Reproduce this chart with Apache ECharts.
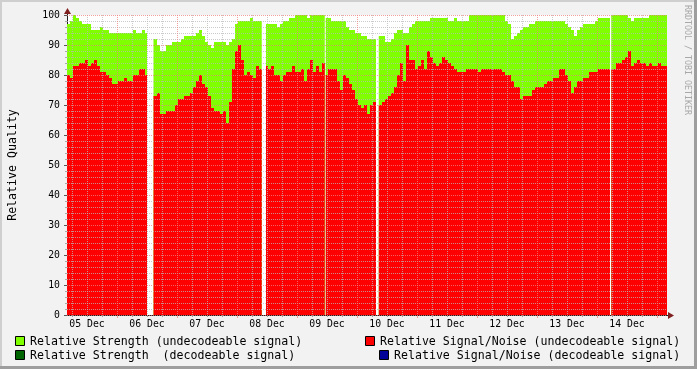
<!DOCTYPE html>
<html><head><meta charset="utf-8">
<script src="https://cdn.jsdelivr.net/npm/echarts@6/dist/echarts.min.js"></script>
<style>html,body{margin:0;padding:0;background:#f2f2f2}#c{width:697px;height:369px}</style>
</head><body><div id="c"></div>
<script>
// ---- data (hours relative to 05 Dec 00:00) ----
const dayTicks  = [0, 24, 48, 72, 96, 120, 144, 168, 192, 216];
const dayLabels = ['05 Dec','06 Dec','07 Dec','08 Dec','09 Dec','10 Dec','11 Dec','12 Dec','13 Dec','14 Dec'];
const minorHours = [-6,0,6,18,24,30,42,48,54,66,72,78,90,96,102,114,120,126,138,144,150,162,168,174,186,192,198,210,216,222];
const majorHours = [12,36,60,84,108,132,156,180,204,228];
const yMinor = [2,4,6,8,12,14,16,18,22,24,26,28,32,34,36,38,42,44,46,48,52,54,56,58,62,64,66,68,72,74,76,78,82,84,86,88,92,94,96,98];
const X_MIN = -8, X_MAX = 232, STEP = 1.2;
// periods without data [from, to]
const gaps = [[24.0, 26.6], [69.9, 71.6], [95.1, 95.5], [115.6, 116.7], [209.2, 209.7]];

const strength = [
 97,98,100,99,98,97,97,97,95,95,
 95,96,95,95,94,94,94,94,94,94,
 94,94,95,94,94,95,94,null,92,92,
 90,88,88,90,90,91,91,91,92,93,
 93,93,93,94,95,93,91,90,89,91,
 91,91,91,90,91,92,97,98,98,98,
 98,99,98,98,98,null,97,97,97,97,
 96,97,98,98,99,99,100,100,100,100,
 99,100,100,100,100,100,99,99,98,98,
 98,98,98,96,95,95,94,94,93,93,
 92,92,92,93,93,93,91,91,92,94,
 95,95,94,94,96,97,98,98,98,98,
 98,99,99,99,99,99,99,98,98,99,
 98,98,98,98,100,100,100,100,100,100,
 100,100,100,100,100,100,98,97,92,93,
 94,95,96,96,97,97,98,98,98,98,
 98,98,98,98,98,98,97,96,95,93,
 95,96,97,97,97,97,98,99,99,99,
 99,100,100,100,100,100,100,99,98,99,
 99,99,99,99,100,100,100,100,100,100
];
const snr = [
 80,79,83,83,84,84,85,83,84,85,
 83,81,81,80,79,77,77,78,78,79,
 78,78,80,80,82,82,80,null,73,73,
 74,67,67,68,68,68,70,72,72,73,
 73,74,76,78,80,77,76,73,69,68,
 68,67,68,64,71,82,88,90,85,80,
 81,80,79,83,82,null,83,82,83,80,
 80,78,80,81,81,83,81,81,82,78,
 82,85,81,83,81,84,80,82,82,82,
 78,75,80,79,77,75,72,70,69,70,
 67,70,71,70,70,71,72,73,74,76,
 80,84,78,90,85,85,82,83,85,82,
 88,86,84,83,84,86,85,84,83,82,
 81,81,81,82,82,82,82,81,82,82,
 82,82,82,82,82,81,80,80,78,76,
 76,72,73,73,73,75,76,76,76,77,
 78,78,79,79,82,82,80,78,74,76,
 78,78,79,79,81,81,81,82,82,82,
 82,82,82,84,84,85,86,88,83,84,
 85,84,84,83,84,83,83,84,83,83
];
const times = strength.map((_, i) => X_MIN + STEP * i);

const FONT = 'DejaVu Sans Mono';
const GREEN = '#80ff00', RED = '#ff0000', DGREEN = '#006400', BLUE = '#000099';
const MINOR_C = 'rgba(185,185,185,0.75)', MAJOR_C = 'rgba(238,130,130,0.75)';

function clipSegments(a, b) {
  let segs = [[a, b]];
  for (const [g0, g1] of gaps) {
    const out = [];
    for (const [s, e] of segs) {
      if (g1 <= s || g0 >= e) { out.push([s, e]); continue; }
      if (g0 > s) out.push([s, g0]);
      if (g1 < e) out.push([g1, e]);
    }
    segs = out;
  }
  return segs;
}
function areaSeries(name, values, color, z) {
  return {
    type: 'custom', name, z, xAxisIndex: 0, yAxisIndex: 0, clip: true, silent: true, animation: false,
    encode: { x: 0, y: 1 },
    data: values.map((v, i) => [times[i], v == null ? '-' : v]),
    renderItem(params, api) {
      const v = api.value(1);
      if (v == null || isNaN(v)) return null;
      const t0 = api.value(0);
      const children = clipSegments(t0, t0 + STEP).map(([a, b]) => {
        const p0 = api.coord([a, v]), p1 = api.coord([b, 0]);
        return { type: 'rect', shape: { x: p0[0], y: p0[1], width: p1[0] - p0[0], height: p1[1] - p0[1] }, style: { fill: color } };
      });
      return { type: 'group', children };
    }
  };
}
const overlayX = (vals, color, z, tick) => ({
  type: 'value', min: X_MIN, max: X_MAX, position: 'bottom', offset: 0, z,
  axisLine: { show: false },
  axisTick: { show: !!tick, customValues: vals, length: 3, lineStyle: { color } },
  axisLabel: { show: false },
  splitLine: { show: true, lineStyle: { color, type: [1, 1], width: 1 } }
});
const overlayY = (extra, color, z) => Object.assign({
  type: 'value', min: 0, max: 100, position: 'left', offset: 0, z,
  axisLine: { show: false }, axisLabel: { show: false },
  splitLine: { show: true, lineStyle: { color, type: [1, 1], width: 1 } }
}, extra);

const chart = echarts.init(document.getElementById('c'), null, { renderer: 'canvas', width: 697, height: 369 });
const option = {
  animation: false,
  backgroundColor: '#f2f2f2',
  textStyle: { fontFamily: FONT },
  grid: { left: 67, right: 30, top: 15, bottom: 54, containLabel: false, outerBoundsMode: 'none', show: true, backgroundColor: '#ffffff', borderWidth: 0 },
  xAxis: [
    {
      type: 'value', min: X_MIN, max: X_MAX, position: 'bottom',
      axisLine: { show: true, onZero: false, lineStyle: { color: '#1f1f1f', width: 1 } },
      axisTick: { show: true, customValues: minorHours, length: 2, lineStyle: { color: '#999' } },
      axisLabel: { customValues: dayTicks, formatter: v => dayLabels[dayTicks.indexOf(v)], fontFamily: FONT, fontSize: 9.8, color: '#000', margin: 4 },
      splitLine: { show: false }
    },
    overlayX(minorHours, MINOR_C, 10, false),
    overlayX(majorHours, MAJOR_C, 11, true)
  ],
  yAxis: [
    {
      type: 'value', min: 0, max: 100, interval: 10, position: 'left',
      name: 'Relative Quality', nameLocation: 'middle', nameGap: 48, nameRotate: 90,
      nameTextStyle: { fontFamily: FONT, fontSize: 11.6, color: '#000' },
      axisLine: { show: true, onZero: false, lineStyle: { color: '#1f1f1f', width: 1 } },
      axisTick: { show: true, length: 3, lineStyle: { color: '#555' } },
      minorTick: { show: true, splitNumber: 5, length: 2, lineStyle: { color: '#aaa' } },
      axisLabel: { fontFamily: FONT, fontSize: 9.8, color: '#000', margin: 7 },
      splitLine: { show: false }
    },
    overlayY({ axisTick: { show: false, customValues: yMinor } }, MINOR_C, 10),
    overlayY({ interval: 10, axisTick: { show: false } }, MAJOR_C, 11)
  ],
  series: [
    areaSeries('Relative Strength (undecodeable signal)', strength, GREEN, 2),
    areaSeries('Relative Signal/Noise (undecodeable signal)', snr, RED, 3)
  ]
};
chart.setOption(option);

const o = chart.convertToPixel({ xAxisIndex: 0, yAxisIndex: 0 }, [X_MIN, 0]);
const e = chart.convertToPixel({ xAxisIndex: 0, yAxisIndex: 0 }, [X_MAX, 100]);
const ARROW = '#801f1f';
const legendText = (x, y, text) => ({ type: 'text', x, y, style: { text, fill: '#000', fontFamily: FONT, fontSize: 11.6, verticalAlign: 'middle' }, silent: true });
const legendBox = (x, y, fill) => ({ type: 'rect', shape: { x: x + 0.5, y: y + 0.5, width: 9, height: 9 }, style: { fill, stroke: '#000', lineWidth: 1 }, silent: true });
chart.setOption({
  graphic: [
    { type: 'rect', shape: { x: 0, y: 0, width: 697, height: 2 }, style: { fill: '#cfcfcf' }, silent: true },
    { type: 'rect', shape: { x: 0, y: 0, width: 2, height: 369 }, style: { fill: '#cfcfcf' }, silent: true },
    { type: 'rect', shape: { x: 694, y: 0, width: 3, height: 369 }, style: { fill: '#9e9e9e' }, silent: true },
    { type: 'rect', shape: { x: 0, y: 366, width: 697, height: 3 }, style: { fill: '#9e9e9e' }, silent: true },
    // axis extensions and arrows
    { type: 'line', shape: { x1: e[0], y1: o[1] + 0.5, x2: e[0] + 2, y2: o[1] + 0.5 }, style: { stroke: '#1f1f1f', lineWidth: 1 }, z: 20, silent: true },
    { type: 'polygon', shape: { points: [[e[0] + 1, o[1] - 3], [e[0] + 7, o[1] + 0.5], [e[0] + 1, o[1] + 4]] }, style: { fill: ARROW }, z: 20, silent: true },
    { type: 'line', shape: { x1: o[0] + 0.5, y1: e[1], x2: o[0] + 0.5, y2: e[1] - 2 }, style: { stroke: '#1f1f1f', lineWidth: 1 }, z: 20, silent: true },
    { type: 'polygon', shape: { points: [[o[0] - 3, e[1] - 1], [o[0] + 0.5, e[1] - 7], [o[0] + 4, e[1] - 1]] }, style: { fill: ARROW }, z: 20, silent: true },
    // legend
    legendBox(15, 336, GREEN), legendText(30, 341.5, 'Relative Strength (undecodeable signal)'),
    legendBox(365, 336, RED), legendText(380, 341.5, 'Relative Signal/Noise (undecodeable signal)'),
    legendBox(15, 350, DGREEN), legendText(30, 355.5, 'Relative Strength  (decodeable signal)'),
    legendBox(379, 350, BLUE), legendText(394, 355.5, 'Relative Signal/Noise (decodeable signal)'),
    // watermark
    { type: 'text', x: 687, y: 5, rotation: -Math.PI / 2, style: { text: 'RRDTOOL / TOBI OETIKER', fill: '#a8a8a8', fontFamily: FONT, fontSize: 8.3, verticalAlign: 'middle', align: 'left' }, silent: true }
  ]
});
</script></body></html>
